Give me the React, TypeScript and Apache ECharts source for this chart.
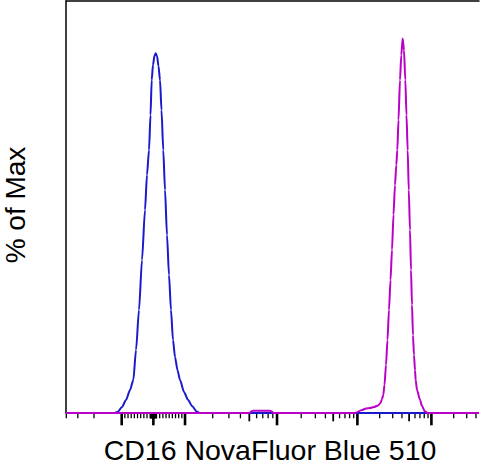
import React, { useEffect, useRef } from "react";
import * as echarts from "echarts";

// Histogram data on the display (channel) scale 0–1024, y in % of max
const BLUE_CH = [0, 119.0, 128.9, 138.8, 148.8, 158.7, 166.9, 173.6, 181.0, 188.4, 195.9, 200.8, 205.8, 209.5, 212.5, 215.7, 219.4, 222.4, 225.6, 229.3, 233.1, 236.8, 241.2, 245.5, 250.4, 255.4, 260.3, 265.3, 270.3, 276.5, 282.7, 292.6, 302.5, 312.4, 324.1, 332.2, 1024];
const BLUE_PCT = [0, 0, 0.32, 1.46, 3.16, 5.58, 8.0, 15.3, 25.0, 37.1, 49.3, 57.8, 63.8, 72.3, 80.8, 84.5, 86.7, 87.3, 86.7, 84.2, 80.8, 73.5, 63.8, 54.1, 43.2, 33.5, 25.0, 17.7, 13.6, 10.4, 8.0, 5.1, 3.2, 1.7, 0.36, 0, 0];

const MAGENTA_CH = [0, 453.7, 463.6, 486.0, 505.8, 515.7, 716.5, 733.9, 743.8, 753.7, 763.7, 773.6, 779.8, 783.5, 786.7, 789.7, 793.4, 797.1, 800.8, 804.6, 808.3, 812.0, 815.7, 819.0, 821.4, 824.4, 828.1, 831.3, 834.8, 838.0, 841.3, 844.2, 847.2, 849.9, 852.9, 855.4, 857.9, 860.3, 862.8, 865.3, 867.0, 870.3, 877.7, 882.7, 890.1, 897.5, 1024];
const MAGENTA_PCT = [0, 0, 0.53, 0.55, 0.53, 0, 0, 0.73, 1.09, 1.21, 1.46, 1.82, 2.43, 3.4, 4.37, 6.8, 11.65, 17.7, 25.0, 32.3, 39.6, 48.1, 55.3, 60.2, 63.8, 71.1, 80.8, 86.9, 90.9, 88.1, 80.8, 72.3, 63.8, 54.1, 44.4, 34.7, 26.2, 18.9, 14.1, 10.4, 8.0, 5.6, 3.2, 1.7, 0.36, 0, 0];

// Axis ticks (fluorescence values) on the biexponential display
const MAJOR_TICKS = [-1000, 0, 1000, 10000, 100000, 1000000];
const NEG_MINOR_TICKS = [-4000, -3000, -2000];
const TOP_MINOR_TICKS = [2000000, 3000000, 4000000];
const MINOR_MULTIPLIERS = [2, 3, 4, 5, 6, 7, 8, 9];

const X_LABEL = "CD16 NovaFluor Blue 510";
const Y_LABEL = "% of Max";

// Display transform: linear within ±1000, log decades above
const ZERO_CH = 216.6;
const LIN_CH = 78.5;
const DECADE_CH = [228.1, 199.3, 183.5, 183.5];

function toCh(v: number): number {
  const a = Math.abs(v);
  const s = v < 0 ? -1 : 1;
  if (a <= 1000) return ZERO_CH + (v / 1000) * LIN_CH;
  const d = Math.log10(a) - 3;
  const i = Math.floor(d);
  const frac = d - i;
  let off = LIN_CH;
  for (let k = 0; k < i; k++) off += DECADE_CH[k];
  off += frac * DECADE_CH[i];
  return ZERO_CH + s * off;
}

function buildTicks(): number[][] {
  const out: number[][] = [];
  MAJOR_TICKS.forEach((v) => out.push([toCh(v), 0, 2]));
  NEG_MINOR_TICKS.forEach((v) => out.push([toCh(v), 0, 0]));
  TOP_MINOR_TICKS.forEach((v) => out.push([toCh(v), 0, 0]));
  for (const base of [10, 100]) {
    for (let m = 1; m <= 9; m++) {
      out.push([toCh(m * base), 0, 0]);
      out.push([toCh(-m * base), 0, 0]);
    }
  }
  for (const dec of [1000, 10000, 100000]) {
    MINOR_MULTIPLIERS.forEach((m) => out.push([toCh(m * dec), 0, m === 5 ? 1 : 0]));
  }
  return out;
}

export default function App() {
  const ref = useRef<HTMLDivElement>(null);
  useEffect(() => {
    if (!ref.current) return;
    const chart = echarts.init(ref.current, undefined, { renderer: "svg" });
    const font = '"Liberation Sans", Arial, Helvetica, sans-serif';
    const blue = BLUE_CH.map((c, i) => [c, BLUE_PCT[i]]);
    const magenta = MAGENTA_CH.map((c, i) => [c, MAGENTA_PCT[i]]);
    const lens = [5, 8, 12];
    const widths = [1.3, 1.8, 2.6];
    chart.setOption({
      animation: false,
      backgroundColor: "#fff",
      grid: { left: 66, right: 1, top: 1, bottom: 54 },
      xAxis: [
        {
          type: "value", min: 0, max: 1024, position: "bottom",
          axisLine: { show: false }, axisTick: { show: false },
          axisLabel: { show: false }, splitLine: { show: false },
        },
        {
          type: "value", min: 0, max: 1024, position: "top",
          axisLine: { show: true, lineStyle: { color: "#000", width: 1.5 } },
          axisTick: { show: false }, axisLabel: { show: false }, splitLine: { show: false },
        },
      ],
      yAxis: {
        type: "value", min: 0, max: 100,
        axisLine: { show: true, lineStyle: { color: "#000", width: 1.5 } },
        axisTick: { show: false }, axisLabel: { show: false }, splitLine: { show: false },
      },
      series: [
        {
          type: "custom",
          silent: true,
          clip: false,
          data: buildTicks(),
          renderItem: (params: any, api: any) => {
            const p = api.coord([api.value(0), 0]);
            const k = api.value(2);
            return {
              type: "line",
              shape: { x1: p[0], y1: p[1] + 0.3, x2: p[0], y2: p[1] + 0.3 + lens[k] },
              style: { stroke: "#000", lineWidth: widths[k] },
            };
          },
        },
        {
          type: "line", data: blue, showSymbol: false, smooth: 0.25, smoothMonotone: "x",
          lineStyle: { color: "#1a1acc", width: 2 }, silent: true, z: 3,
        },
        {
          type: "line", data: magenta, showSymbol: false, smooth: 0.25, smoothMonotone: "x",
          lineStyle: { color: "#bb00c8", width: 2 }, silent: true, z: 4,
        },
      ],
      graphic: [
        {
          type: "text", x: 270, y: 449.5,
          style: { text: X_LABEL, align: "center", verticalAlign: "middle", fontSize: 28.5, fontFamily: font, fill: "#000" },
        },
        {
          type: "text", x: 15.5, y: 205, rotation: Math.PI / 2,
          style: { text: Y_LABEL, align: "center", verticalAlign: "middle", fontSize: 28, fontFamily: font, fill: "#000" },
        },
      ],
    });
    return () => chart.dispose();
  }, []);
  return <div ref={ref} style={{ position: "fixed", left: 0, top: 0, width: 480, height: 467 }} />;
}
